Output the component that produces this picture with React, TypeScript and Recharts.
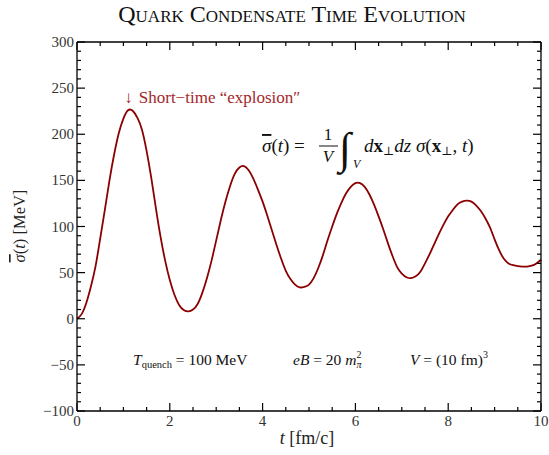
import React from 'react';
import { LineChart, Line, XAxis, YAxis, ReferenceDot } from 'recharts';

document.body.style.margin = '0';

// time in fm/c and condensate in MeV
const times = [
  0, 0.1, 0.2, 0.3, 0.4, 0.5, 0.6, 0.7, 0.8, 0.9,
  1, 1.1, 1.2, 1.3, 1.4, 1.5, 1.6, 1.7, 1.8, 1.9,
  2, 2.1, 2.2, 2.3, 2.4, 2.5, 2.6, 2.7, 2.8, 2.9,
  3, 3.1, 3.2, 3.3, 3.4, 3.5, 3.6, 3.7, 3.8, 3.9,
  4, 4.1, 4.2, 4.3, 4.4, 4.5, 4.6, 4.7, 4.8, 4.9,
  5, 5.1, 5.2, 5.3, 5.4, 5.5, 5.6, 5.7, 5.8, 5.9,
  6, 6.1, 6.2, 6.3, 6.4, 6.5, 6.6, 6.7, 6.8, 6.9,
  7, 7.1, 7.2, 7.3, 7.4, 7.5, 7.6, 7.7, 7.8, 7.9,
  8, 8.1, 8.2, 8.3, 8.4, 8.5, 8.6, 8.7, 8.8, 8.9,
  9, 9.1, 9.2, 9.3, 9.4, 9.5, 9.6, 9.7, 9.8, 9.9,
  10,
];
const sigma = [
  0, 5, 17, 35, 57, 87, 118, 150, 178, 201,
  217, 226, 225.5, 218, 205, 182, 153, 120, 89, 63,
  42, 26, 15, 9.5, 8, 10, 16, 28, 44, 63,
  85, 107, 127, 144, 157, 164, 165.5, 161, 152, 140,
  127, 112, 96, 80, 65, 52, 43, 37, 34, 34.5,
  37, 44, 55, 69, 85, 100, 114, 126, 136, 143,
  147, 147, 143, 135, 124, 111, 97, 82, 68, 56,
  49, 45, 44, 46, 51, 60, 70, 81, 92, 102,
  111, 118, 124, 127, 128, 127, 123, 117, 109, 99,
  86, 74, 65, 60, 58, 57, 56.5, 56.5, 57.5, 60,
  64,
];

const xTicks = [0, 0.5, 1, 1.5, 2, 2.5, 3, 3.5, 4, 4.5, 5, 5.5, 6, 6.5, 7, 7.5, 8, 8.5, 9, 9.5, 10];
const xMajorTicks = [0, 2, 4, 6, 8, 10];
const yTicks = [
  -100, -90, -80, -70, -60, -50, -40, -30, -20, -10, 0, 10, 20, 30, 40, 50, 60, 70, 80, 90, 100,
  110, 120, 130, 140, 150, 160, 170, 180, 190, 200, 210, 220, 230, 240, 250, 260, 270, 280, 290, 300,
];
const yMajorTicks = [-100, -50, 0, 50, 100, 150, 200, 250, 300];

const title = 'Quark Condensate Time Evolution';
const annotation = 'Short\u2212time \u201Cexplosion\u2033';
const peakTime = 1.17;
const annotationLevel = 234;

const data = times.map((t, i) => ({ t, sigma: sigma[i] }));

const FONT = '"Liberation Serif", "DejaVu Serif", serif';
const LABEL = '#333';
const RED = '#8b0000';

const fmt = (v: number) => (v < 0 ? `\u2212${Math.abs(v)}` : `${v}`);

const BottomTick = ({ x, y, payload }: any) => {
  const major = xMajorTicks.includes(payload.value);
  return (
    <g>
      <line x1={x} x2={x} y1={y} y2={y - (major ? 8 : 4)} stroke="#000" strokeWidth={1.2} />
      {major && (
        <text x={x} y={y + 15} textAnchor="middle" fontSize={15} fill={LABEL} fontFamily={FONT}>
          {fmt(payload.value)}
        </text>
      )}
    </g>
  );
};

const TopTick = ({ x, y, payload }: any) => {
  const major = xMajorTicks.includes(payload.value);
  return <line x1={x} x2={x} y1={y} y2={y + (major ? 8 : 4)} stroke="#000" strokeWidth={1.2} />;
};

const LeftTick = ({ x, y, payload }: any) => {
  const major = yMajorTicks.includes(payload.value);
  return (
    <g>
      <line x1={x} x2={x + (major ? 8 : 4)} y1={y} y2={y} stroke="#000" strokeWidth={1.2} />
      {major && (
        <text x={x - 3} y={y + 5} textAnchor="end" fontSize={15} fill={LABEL} fontFamily={FONT}>
          {fmt(payload.value)}
        </text>
      )}
    </g>
  );
};

const RightTick = ({ x, y, payload }: any) => {
  const major = yMajorTicks.includes(payload.value);
  return <line x1={x} x2={x - (major ? 8 : 4)} y1={y} y2={y} stroke="#000" strokeWidth={1.2} />;
};

const AnnotationLabel = ({ viewBox }: any) => {
  const cx = viewBox.x + (viewBox.width || 0) / 2;
  const cy = viewBox.y + (viewBox.height || 0) / 2;
  return (
    <text x={cx - 7} y={cy} fontSize={17} fill="#a3282b" fontFamily={FONT}>
      {'\u2193'}
      <tspan dx={6}>{annotation}</tspan>
    </text>
  );
};

const axisLine = { stroke: '#000', strokeWidth: 1.3 };
const bar = { textDecoration: 'overline' };

export default function App() {
  return (
    <LineChart width={549} height={455} data={data} margin={{ top: 41, right: 7, left: 0, bottom: 0 }}>
      <XAxis
        xAxisId="bottom"
        dataKey="t"
        type="number"
        domain={[0, 10]}
        ticks={xTicks}
        interval={0}
        height={44}
        tickSize={0}
        tickMargin={0}
        tickLine={false}
        axisLine={axisLine}
        tick={<BottomTick />}
      />
      <XAxis
        xAxisId="top"
        orientation="top"
        dataKey="t"
        type="number"
        domain={[0, 10]}
        ticks={xTicks}
        interval={0}
        height={1}
        tickSize={0}
        tickMargin={0}
        tickLine={false}
        axisLine={axisLine}
        tick={<TopTick />}
      />
      <YAxis
        yAxisId="left"
        type="number"
        domain={[-100, 300]}
        ticks={yTicks}
        interval={0}
        width={77}
        tickSize={0}
        tickMargin={0}
        tickLine={false}
        axisLine={axisLine}
        tick={<LeftTick />}
      />
      <YAxis
        yAxisId="right"
        orientation="right"
        type="number"
        domain={[-100, 300]}
        ticks={yTicks}
        interval={0}
        width={1}
        tickSize={0}
        tickMargin={0}
        tickLine={false}
        axisLine={axisLine}
        tick={<RightTick />}
      />
      <Line
        xAxisId="bottom"
        yAxisId="left"
        type="natural"
        dataKey="sigma"
        stroke={RED}
        strokeWidth={1.8}
        dot={false}
        isAnimationActive={false}
      />
      {/* invisible twin so the top and right frame axes get a scale */}
      <Line
        xAxisId="top"
        yAxisId="right"
        type="natural"
        dataKey="sigma"
        stroke="none"
        dot={false}
        activeDot={false}
        legendType="none"
        isAnimationActive={false}
      />
      <ReferenceDot
        xAxisId="bottom"
        yAxisId="left"
        x={peakTime}
        y={annotationLevel}
        r={0}
        stroke="none"
        fill="none"
        label={<AnnotationLabel />}
      />

      <text x={292} y={22} textAnchor="middle" fontSize={24} fill="#111" fontFamily={FONT} style={{ fontVariant: 'small-caps' }}>
        {title}
      </text>

      <text x={307} y={444} textAnchor="middle" fontSize={18} fill="#222" fontFamily={FONT}>
        <tspan fontStyle="italic">t</tspan> [fm/c]
      </text>

      <text
        x={25}
        y={226}
        textAnchor="middle"
        fontSize={16.5}
        fill="#222"
        fontFamily={FONT}
        transform="rotate(-90, 25, 226)"
      >
        <tspan fontStyle="italic" style={bar}>{'\u03C3'}</tspan>(<tspan fontStyle="italic">t</tspan>) [MeV]
      </text>

      {/* formula */}
      <g fontFamily={FONT} fill="#111">
        <text x={262} y={152} fontSize={19}>
          <tspan fontStyle="italic" style={bar}>{'\u03C3'}</tspan>(<tspan fontStyle="italic">t</tspan>) =
        </text>
        <text x={328} y={140} fontSize={17} textAnchor="middle">1</text>
        <line x1={319} x2={338} y1={146} y2={146} stroke="#111" strokeWidth={1} />
        <text x={328} y={162} fontSize={17} textAnchor="middle" fontStyle="italic">V</text>
        <text x={339} y={163} fontSize={44} fontStyle="italic">{'\u222B'}</text>
        <text x={353} y={168} fontSize={12} fontStyle="italic">V</text>
        <text x={364} y={152} fontSize={19}>
          <tspan fontStyle="italic">d</tspan>
          <tspan fontWeight="bold">x</tspan>
          <tspan fontSize={12} dy={3}>{'\u22A5'}</tspan>
          <tspan fontStyle="italic" dy={-3}>dz</tspan>
          <tspan> </tspan>
          <tspan fontStyle="italic">{'\u03C3'}</tspan>
          <tspan>(</tspan>
          <tspan fontWeight="bold">x</tspan>
          <tspan fontSize={12} dy={3}>{'\u22A5'}</tspan>
          <tspan dy={-3}>, </tspan>
          <tspan fontStyle="italic">t</tspan>
          <tspan>)</tspan>
        </text>
      </g>

      {/* parameters */}
      <g fontFamily={FONT} fill="#111" fontSize={15.5}>
        <text x={133} y={365}>
          <tspan fontStyle="italic">T</tspan>
          <tspan fontSize={10.5} dy={3}>quench</tspan>
          <tspan dy={-3}> = 100 MeV</tspan>
        </text>
        <text x={293} y={365}>
          <tspan fontStyle="italic">eB</tspan>
          <tspan> = 20 </tspan>
          <tspan fontStyle="italic">m</tspan>
          <tspan fontSize={10} dy={-7}>2</tspan>
          <tspan fontSize={10} fontStyle="italic" dx={-5} dy={10}>{'\u03C0'}</tspan>
        </text>
        <text x={410} y={365}>
          <tspan fontStyle="italic">V</tspan>
          <tspan> = (10 fm)</tspan>
          <tspan fontSize={10} dy={-7}>3</tspan>
        </text>
      </g>
    </LineChart>
  );
}
